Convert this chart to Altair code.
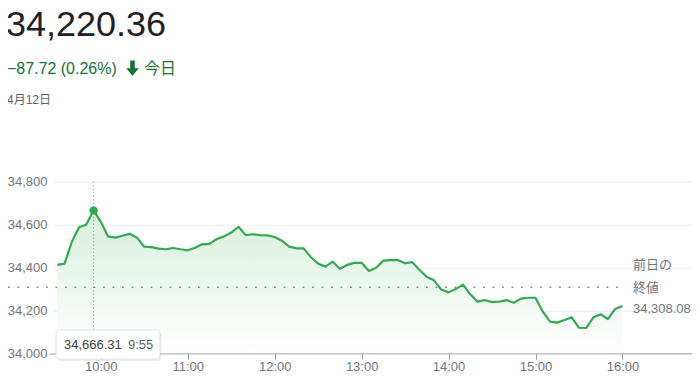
import altair as alt
import pandas as pd

FONT = "Liberation Sans, Arial, Noto Sans CJK JP"
GREEN = "#34a853"
TEXT_GREEN = "#137333"
GRAY = "#70757a"

# minutes since midnight, 9:30 - 16:00 every 5 minutes
times = list(range(570, 961, 5))
values = [
    34412, 34418, 34520, 34588, 34600, 34666.31, 34613, 34545, 34539, 34548,
    34557, 34539, 34497, 34495, 34488, 34485, 34491, 34485, 34480, 34492,
    34508, 34510, 34533, 34545, 34563, 34590, 34551, 34555, 34551, 34550,
    34542, 34525, 34497, 34489, 34489, 34448, 34418, 34404, 34427, 34394,
    34412, 34422, 34422, 34384, 34399, 34432, 34434, 34435, 34420, 34425,
    34388, 34356, 34340, 34297, 34284, 34300, 34320, 34275, 34241, 34248,
    34239, 34241, 34248, 34236, 34255, 34259, 34259, 34194, 34148, 34143,
    34155, 34168, 34119, 34118, 34168, 34182, 34160, 34207, 34220.36,
]
prev_close = 34308.08
date_label = "4月12日"
x_ticks = [600, 660, 720, 780, 840, 900, 960]
y_ticks = [34000, 34200, 34400, 34600, 34800]

df = pd.DataFrame({"t": times, "v": values})
peak = df.loc[[df["v"].idxmax()]].reset_index(drop=True)

W, H = 639, 171.6
PAD_L, PAD_T, PAD_R, PAD_B = 45, 173.7, 0, 23
x_dom = [567, 1008]
x_start = x_dom[0] - PAD_L * (x_dom[1] - x_dom[0]) / W

x_scale = alt.Scale(domain=x_dom, nice=False, zero=False)
y_scale = alt.Scale(domain=[34000, 34800], nice=False, zero=False)

x_axis = alt.Axis(
    values=x_ticks,
    labelExpr="floor(datum.value/60) + ':' + (datum.value % 60 < 10 ? '0' : '') + (datum.value % 60)",
    title=None, grid=False, tickSize=6, tickColor="#9aa0a6", domainColor="#9aa0a6",
    labelColor=GRAY, labelFontSize=13, labelFont=FONT, labelPadding=1,
    labelFlush=False, labelOverlap=False,
)
y_axis = alt.Axis(
    values=y_ticks, format=",d", title=None, grid=True, gridColor="#ececec",
    domain=False, tickSize=4,
    tickColor={"condition": {"test": "datum.value === 34000", "value": "#9aa0a6"}, "value": "transparent"},
    labelColor=GRAY, labelFontSize=13, labelFont=FONT, labelPadding=2,
    labelFlush=False, labelOverlap=False,
)

X = alt.X("t:Q", scale=x_scale, axis=x_axis)
Y = alt.Y("v:Q", scale=y_scale, axis=y_axis)

area = alt.Chart(df).mark_area(
    color=alt.Gradient(
        gradient="linear",
        stops=[alt.GradientStop(color="#d8eedd", offset=0),
               alt.GradientStop(color="#ffffff", offset=1)],
        x1=1, x2=1, y1=0, y2=1,
    )
).encode(x=X, y=Y, y2=alt.datum(34000))

pc_df = pd.DataFrame({"v": [prev_close], "t0": [x_start], "t": [960]})
pc_rule = alt.Chart(pc_df).mark_rule(
    color="#80868b", strokeDash=[1.8, 7.7], strokeWidth=1.6
).encode(x=alt.X("t0:Q", scale=x_scale, axis=x_axis), x2="t:Q", y=Y)

cross = alt.Chart(peak).mark_rule(
    color="#9aa0a6", strokeDash=[1.2, 2.3], strokeWidth=1
).encode(x=X, y=alt.value(0), y2=alt.value(148.3))

line = alt.Chart(df).mark_line(color=GREEN, strokeWidth=2.2, strokeJoin="round").encode(x=X, y=Y)

dot = alt.Chart(peak).mark_circle(size=70, color=GREEN, opacity=1).encode(x=X, y=Y)

pc_fmt = f"{prev_close:,.2f}"
pc_texts = [
    alt.Chart(pc_df).mark_text(align="left", baseline="middle", dy=dy, fontSize=13,
                               font=FONT, color=GRAY)
    .encode(x=alt.value(580), y=Y, text=alt.value(txt))
    for txt, dy in [("前日の", -22), ("終値", 1), (pc_fmt, 22)]
]

one = pd.DataFrame({"a": [0]})
shadow = alt.Chart(one).mark_rect(fill="#000000", opacity=0.07, cornerRadius=4).encode(
    x=alt.value(3.5), x2=alt.value(108.5), y=alt.value(149.5), y2=alt.value(179.5))
box = alt.Chart(one).mark_rect(fill="white", stroke="#e3e3e3", strokeWidth=1, cornerRadius=4).encode(
    x=alt.value(3), x2=alt.value(107), y=alt.value(148.3), y2=alt.value(177.3))

pv = peak["v"][0]
pt = int(peak["t"][0])
tip_val = alt.Chart(peak).mark_text(align="left", baseline="middle", fontSize=13, font=FONT,
                                    color="#3c4043").encode(
    x=alt.value(11), y=alt.value(163), text=alt.value(f"{pv:,.2f}"))
tip_time = alt.Chart(peak).mark_text(align="left", baseline="middle", fontSize=13, font=FONT,
                                     color="#5f6368").encode(
    x=alt.value(75), y=alt.value(163), text=alt.value(f"{pt // 60}:{pt % 60:02d}"))

last = values[-1]
chg = last - prev_close
pct = abs(chg) / prev_close * 100
head_price = alt.Chart(one).mark_text(align="left", baseline="alphabetic", fontSize=36,
                                      font=FONT, color="#202124").encode(
    x=alt.value(-47), y=alt.value(-145.4), text=alt.value(f"{last:,.2f}"))
head_chg = alt.Chart(one).mark_text(align="left", baseline="alphabetic", fontSize=16,
                                    font=FONT, color=TEXT_GREEN).encode(
    x=alt.value(-46), y=alt.value(-107.7),
    text=alt.value(f"\u2212{abs(chg):.2f} ({pct:.2f}%)"))
ARROW = "M-0.36,-1.2L0.36,-1.2L0.36,0L1,0L0,1.2L-1,0L-0.36,0Z"
head_arrow = alt.Chart(one).mark_point(shape=ARROW, filled=True, size=160, opacity=1,
                                       color=TEXT_GREEN).encode(
    x=alt.value(79.5), y=alt.value(-113.5))
head_today = alt.Chart(one).mark_text(align="left", baseline="alphabetic", fontSize=16,
                                      font=FONT, color=TEXT_GREEN).encode(
    x=alt.value(91), y=alt.value(-107.7), text=alt.value("今日"))
head_date = alt.Chart(one).mark_text(align="left", baseline="alphabetic", fontSize=12,
                                     font=FONT, color="#5f6368").encode(
    x=alt.value(-46), y=alt.value(-77.7), text=alt.value(date_label))

chart = alt.layer(
    area, pc_rule, cross, line, dot, *pc_texts, shadow, box, tip_val, tip_time,
    head_price, head_chg, head_arrow, head_today, head_date,
).properties(
    width=W, height=H,
    padding={"left": PAD_L, "top": PAD_T, "right": PAD_R, "bottom": PAD_B},
    autosize=alt.AutoSizeParams(type="none"),
).configure_view(stroke=None)

chart.save("out.html", embed_options={"renderer": "svg", "actions": False})
